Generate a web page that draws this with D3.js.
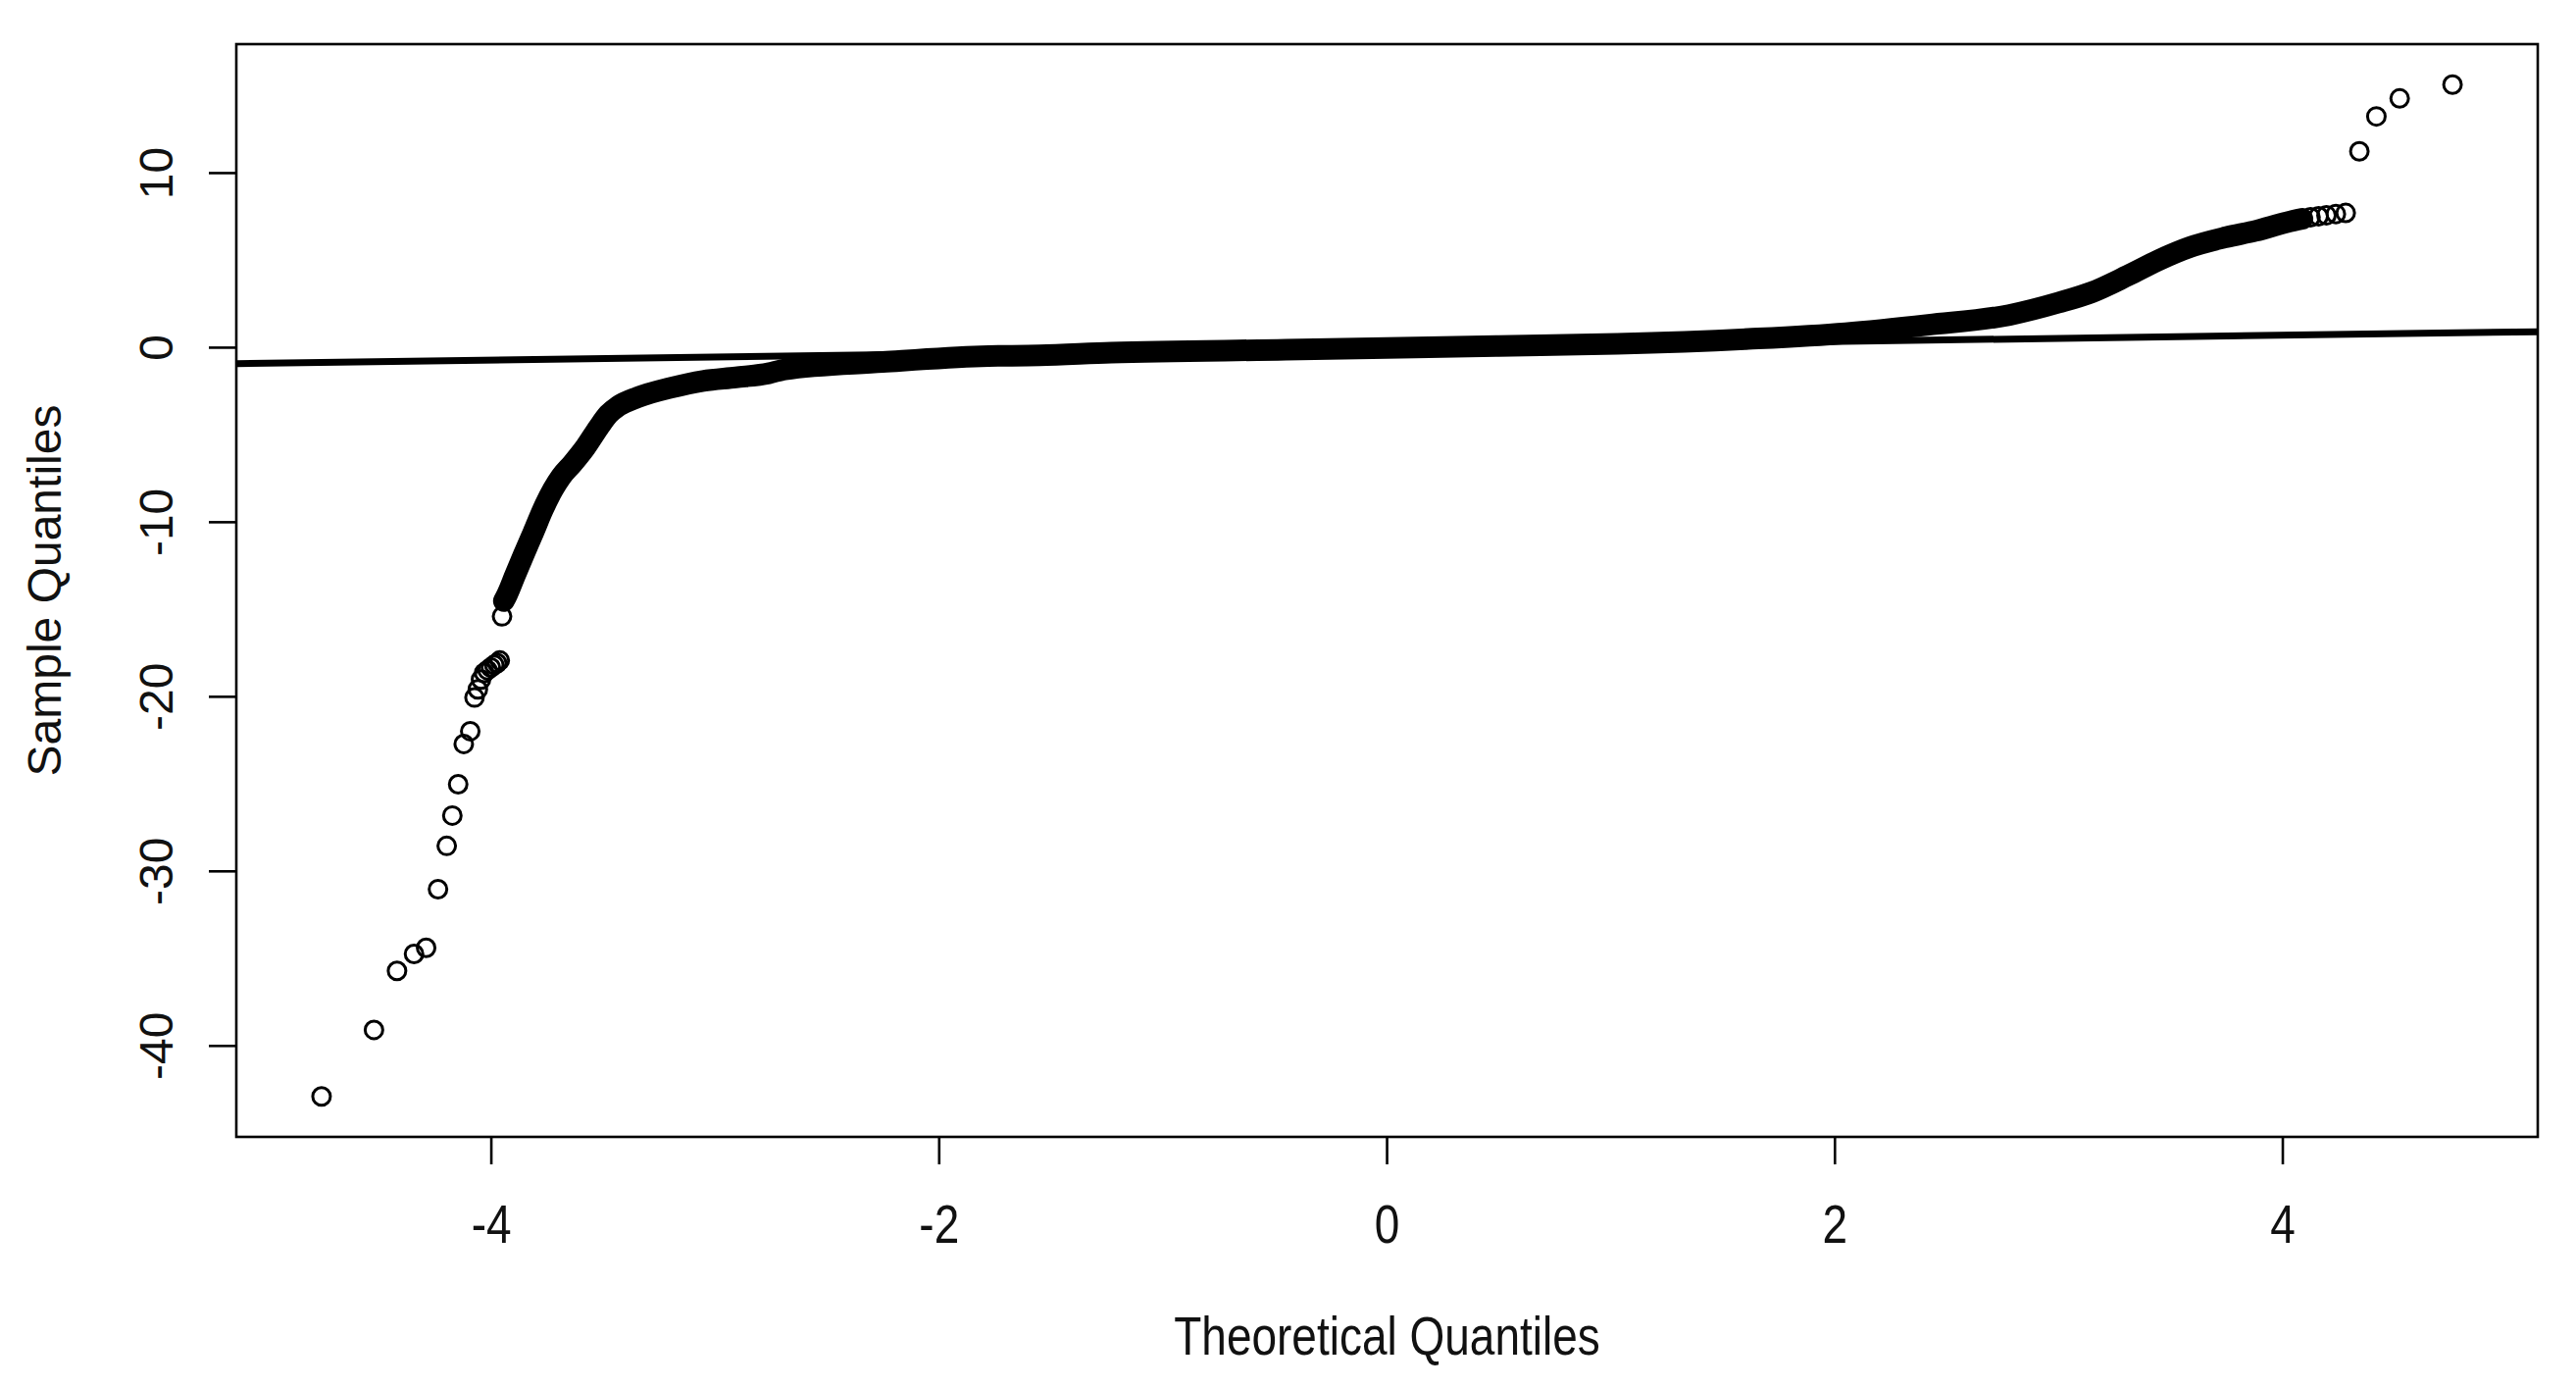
<!DOCTYPE html>
<html>
<head>
<meta charset="utf-8">
<script src="https://cdn.jsdelivr.net/npm/d3@7/dist/d3.min.js"></script>
<style>
  html, body { margin: 0; padding: 0; background: #ffffff; }
  svg { display: block; }
  text { font-family: "Liberation Sans", Arial, "DejaVu Sans", sans-serif; fill: #111; }
</style>
</head>
<body>
<div id="chart"></div>
<script>
// ---------- data ----------
// sparse tail points (individually visible circles)
const tailTheoretical = [
  -4.756, -4.522, -4.419, -4.343, -4.289, -4.236, -4.197, -4.172, -4.146, -4.121,
  -4.092, -4.073, -4.058, -4.044, -4.030, -4.015, -4.000, -3.985, -3.972, -3.960,
  -3.950,
  4.126, 4.162, 4.197, 4.239, 4.283, 4.344, 4.420, 4.524, 4.760
];
const tailSample = [
  -42.92, -39.11, -35.73, -34.76, -34.41, -31.05, -28.57, -26.83, -25.04, -22.73,
  -22.00, -20.07, -19.60, -19.04, -18.66, -18.50, -18.35, -18.20, -18.10, -17.95,
  -15.42,
  7.44, 7.50, 7.56, 7.63, 7.69, 11.22, 13.22, 14.25, 15.04
];
// dense band of overlapping circles (centre line)
const bandTheoretical = [
  -3.942, -3.927, -3.891, -3.854, -3.810, -3.767, -3.723, -3.686, -3.635, -3.577,
  -3.519, -3.475, -3.431, -3.344, -3.198, -3.052, -2.906, -2.760, -2.687, -2.250,
  -1.810, -1.550, -1.230, -0.450, 0.000, 0.500, 1.030, 1.615, 2.050, 2.420,
  2.780, 3.000, 3.150, 3.310, 3.450, 3.585, 3.750, 3.880, 4.020, 4.090
];
const bandSample = [
  -14.54, -14.16, -13.04, -11.91, -10.60, -9.29, -8.16, -7.41, -6.66, -5.72,
  -4.60, -3.84, -3.38, -2.87, -2.33, -1.93, -1.73, -1.50, -1.27, -0.85,
  -0.52, -0.47, -0.31, -0.15, -0.05, 0.07, 0.19, 0.47, 0.80, 1.28,
  1.84, 2.55, 3.15, 4.10, 5.00, 5.72, 6.30, 6.66, 7.15, 7.35
];
// reference line (qqline): intercept and slope
const qqlineIntercept = -0.03;
const qqlineSlope = 0.178;

const xTickValues = [-4, -2, 0, 2, 4];
const yTickValues = [-40, -30, -20, -10, 0, 10];
const xTitle = "Theoretical Quantiles";
const yTitle = "Sample Quantiles";

// ---------- layout ----------
const W = 2627, H = 1415;
const plot = { left: 241, right: 2588, top: 45, bottom: 1159 };

const allX = tailTheoretical.concat(bandTheoretical);
const allY = tailSample.concat(bandSample);
function padded(ext) { const p = (ext[1] - ext[0]) * 0.04; return [ext[0] - p, ext[1] + p]; }

const x = d3.scaleLinear().domain(padded(d3.extent(allX))).range([plot.left, plot.right]);
const y = d3.scaleLinear().domain(padded(d3.extent(allY))).range([plot.bottom, plot.top]);

const svg = d3.select("#chart").append("svg")
  .attr("width", W).attr("height", H)
  .attr("viewBox", `0 0 ${W} ${H}`);

svg.append("defs").append("clipPath").attr("id", "plotclip")
  .append("rect")
  .attr("x", plot.left).attr("y", plot.top)
  .attr("width", plot.right - plot.left).attr("height", plot.bottom - plot.top);

const g = svg.append("g").attr("clip-path", "url(#plotclip)");

// dense band drawn as overlapping circle chain
const band = bandTheoretical.map((d, i) => [d, bandSample[i]]);
g.append("path")
  .datum(band)
  .attr("d", d3.line().x(d => x(d[0])).y(d => y(d[1])).curve(d3.curveMonotoneX))
  .attr("fill", "none")
  .attr("stroke", "#000")
  .attr("stroke-width", 22)
  .attr("stroke-linecap", "round")
  .attr("stroke-linejoin", "round");

// individual points
const tail = tailTheoretical.map((d, i) => [d, tailSample[i]]);
g.selectAll("circle.pt")
  .data(tail)
  .join("circle")
  .attr("class", "pt")
  .attr("cx", d => x(d[0]))
  .attr("cy", d => y(d[1]))
  .attr("r", 9)
  .attr("fill", "none")
  .attr("stroke", "#000")
  .attr("stroke-width", 3);

// qqline
const xd = x.domain();
g.append("line")
  .attr("x1", x(xd[0])).attr("y1", y(qqlineIntercept + qqlineSlope * xd[0]))
  .attr("x2", x(xd[1])).attr("y2", y(qqlineIntercept + qqlineSlope * xd[1]))
  .attr("stroke", "#000")
  .attr("stroke-width", 7);

// box
svg.append("rect")
  .attr("x", plot.left).attr("y", plot.top)
  .attr("width", plot.right - plot.left).attr("height", plot.bottom - plot.top)
  .attr("fill", "none").attr("stroke", "#000").attr("stroke-width", 2.6);

const fmt = d => (d < 0 ? "-" + Math.abs(d) : String(d));

// x axis
const gx = svg.append("g")
  .attr("transform", `translate(0,${plot.bottom})`)
  .call(d3.axisBottom(x).tickValues(xTickValues).tickSize(28).tickFormat(fmt));
gx.select(".domain").remove();
gx.selectAll(".tick line").attr("stroke", "#000").attr("stroke-width", 2.6);
gx.selectAll(".tick text")
  .attr("y", 0).attr("dy", "0.36em")
  .attr("transform", "translate(0,88) scale(1,1.2)")
  .attr("font-size", 46)
  .attr("fill", "#111");

// y axis
const gy = svg.append("g")
  .attr("transform", `translate(${plot.left},0)`)
  .call(d3.axisLeft(y).tickValues(yTickValues).tickSize(28).tickFormat(fmt));
gy.select(".domain").remove();
gy.selectAll(".tick line").attr("stroke", "#000").attr("stroke-width", 2.6);
gy.selectAll(".tick text")
  .attr("x", 0).attr("y", 0).attr("dy", "0.36em")
  .attr("text-anchor", "middle")
  .attr("transform", "translate(-82,0) rotate(-90)")
  .attr("font-size", 48)
  .attr("fill", "#111");

// titles
svg.append("text")
  .attr("text-anchor", "middle")
  .attr("dy", "0.36em")
  .attr("transform", `translate(${(plot.left + plot.right) / 2},1361) scale(1,1.2)`)
  .attr("font-size", 46)
  .text(xTitle);

svg.append("text")
  .attr("text-anchor", "middle")
  .attr("dy", "0.36em")
  .attr("transform", `translate(45,${(plot.top + plot.bottom) / 2}) rotate(-90)`)
  .attr("font-size", 48)
  .text(yTitle);
</script>
</body>
</html>
